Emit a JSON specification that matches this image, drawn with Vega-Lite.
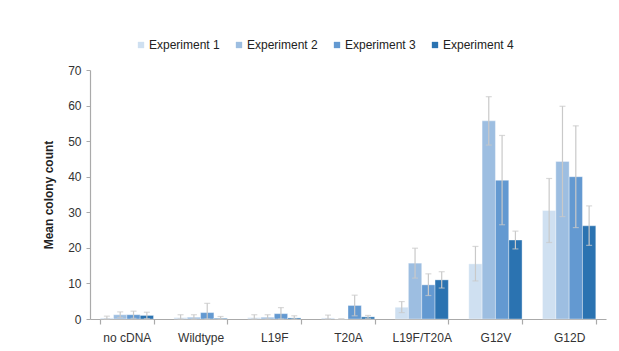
{
  "$schema": "https://vega.github.io/schema/vega-lite/v6.json",
  "autosize": "none",
  "width": 516,
  "height": 249,
  "padding": {"left": 90, "top": 70, "right": 13, "bottom": 32},
  "background": "white",
  "config": {
    "view": {"stroke": null},
    "font": "Liberation Sans",
    "axis": {"labelFont": "Liberation Sans", "titleFont": "Liberation Sans", "labelColor": "#333333", "titleColor": "#222222", "domainColor": "#aaaaaa", "tickColor": "#aaaaaa", "grid": false},
    "axisY": {"title": "Mean colony count", "titleFontWeight": "bold", "titleFontSize": 12, "titlePadding": 12, "values": [0, 10, 20, 30, 40, 50, 60, 70], "labelOverlap": false, "labelFontSize": 12, "tickSize": 4, "labelPadding": 5, "domainWidth": 1.2}
  },
  "data": {
    "values": [
      {"cat": "no cDNA", "exp": "Experiment 1", "mean": 0.3, "lo": 0.0, "hi": 0.8},
      {"cat": "no cDNA", "exp": "Experiment 2", "mean": 1.2, "lo": 0.4, "hi": 2.0},
      {"cat": "no cDNA", "exp": "Experiment 3", "mean": 1.2, "lo": 0.2, "hi": 2.2},
      {"cat": "no cDNA", "exp": "Experiment 4", "mean": 1.0, "lo": 0.1, "hi": 1.9},
      {"cat": "Wildtype", "exp": "Experiment 1", "mean": 0.4, "lo": 0.0, "hi": 1.2},
      {"cat": "Wildtype", "exp": "Experiment 2", "mean": 0.5, "lo": 0.0, "hi": 1.2},
      {"cat": "Wildtype", "exp": "Experiment 3", "mean": 1.8, "lo": 0.0, "hi": 4.4},
      {"cat": "Wildtype", "exp": "Experiment 4", "mean": 0.2, "lo": 0.0, "hi": 0.7},
      {"cat": "L19F", "exp": "Experiment 1", "mean": 0.4, "lo": 0.0, "hi": 1.2},
      {"cat": "L19F", "exp": "Experiment 2", "mean": 0.5, "lo": 0.0, "hi": 1.2},
      {"cat": "L19F", "exp": "Experiment 3", "mean": 1.5, "lo": 0.0, "hi": 3.2},
      {"cat": "L19F", "exp": "Experiment 4", "mean": 0.3, "lo": 0.0, "hi": 0.9},
      {"cat": "T20A", "exp": "Experiment 1", "mean": 0.3, "lo": 0.0, "hi": 1.1},
      {"cat": "T20A", "exp": "Experiment 2", "mean": 0.0, "lo": 0.0, "hi": 0.0},
      {"cat": "T20A", "exp": "Experiment 3", "mean": 3.8, "lo": 0.9, "hi": 6.7},
      {"cat": "T20A", "exp": "Experiment 4", "mean": 0.6, "lo": 0.2, "hi": 1.0},
      {"cat": "L19F/T20A", "exp": "Experiment 1", "mean": 3.3, "lo": 1.8, "hi": 4.9},
      {"cat": "L19F/T20A", "exp": "Experiment 2", "mean": 15.7, "lo": 11.5, "hi": 19.9},
      {"cat": "L19F/T20A", "exp": "Experiment 3", "mean": 9.6, "lo": 6.6, "hi": 12.7},
      {"cat": "L19F/T20A", "exp": "Experiment 4", "mean": 11.0, "lo": 8.7, "hi": 13.3},
      {"cat": "G12V", "exp": "Experiment 1", "mean": 15.5, "lo": 10.7, "hi": 20.4},
      {"cat": "G12V", "exp": "Experiment 2", "mean": 55.7, "lo": 48.9, "hi": 62.5},
      {"cat": "G12V", "exp": "Experiment 3", "mean": 39.0, "lo": 26.5, "hi": 51.6},
      {"cat": "G12V", "exp": "Experiment 4", "mean": 22.2, "lo": 19.7, "hi": 24.7},
      {"cat": "G12D", "exp": "Experiment 1", "mean": 30.5, "lo": 21.5, "hi": 39.5},
      {"cat": "G12D", "exp": "Experiment 2", "mean": 44.3, "lo": 28.8, "hi": 59.8},
      {"cat": "G12D", "exp": "Experiment 3", "mean": 40.0, "lo": 25.7, "hi": 54.3},
      {"cat": "G12D", "exp": "Experiment 4", "mean": 26.2, "lo": 20.7, "hi": 31.8}
    ]
  },
  "encoding": {
    "x": {
      "field": "cat", "type": "nominal",
      "sort": ["no cDNA", "Wildtype", "L19F", "T20A", "L19F/T20A", "G12V", "G12D"],
      "scale": {"paddingInner": 0.277, "paddingOuter": 0.1385},
      "axis": {"title": null, "labelAngle": 0, "labelFontSize": 12, "labelPadding": 8, "ticks": true, "tickBand": "extent", "tickExtra": true, "tickSize": 5, "tickWidth": 1.2, "domainWidth": 1.2}
    },
    "xOffset": {"field": "exp", "type": "nominal", "scale": {"paddingInner": 0, "paddingOuter": 0}}
  },
  "layer": [
    {
      "mark": {"type": "bar", "stroke": "#ffffff", "strokeWidth": 0.6, "strokeOpacity": 0.6},
      "encoding": {
        "y": {
          "field": "mean", "type": "quantitative", "title": "Mean colony count",
          "scale": {"domain": [0, 70], "nice": false}
        },
        "color": {
          "field": "exp", "type": "nominal",
          "scale": {"domain": ["Experiment 1", "Experiment 2", "Experiment 3", "Experiment 4"], "range": ["#cfe0f1", "#9dbee1", "#6399d1", "#2b73b1"]},
          "legend": {"title": null, "orient": "none", "legendX": 45, "legendY": -31, "direction": "horizontal", "symbolType": "square", "symbolSize": 40, "symbolStrokeWidth": 0, "labelFontSize": 12, "labelColor": "#222222", "labelFont": "Liberation Sans", "columnPadding": 13, "labelOffset": 2}
        }
      }
    },
    {
      "mark": {"type": "rule", "color": "#c9c9c9", "strokeWidth": 1.2},
      "encoding": {
        "y": {"field": "lo", "type": "quantitative", "title": "Mean colony count"},
        "y2": {"field": "hi"}
      }
    },
    {
      "mark": {"type": "tick", "color": "#c9c9c9", "size": 6, "thickness": 1.2, "orient": "horizontal"},
      "encoding": {"y": {"field": "lo", "type": "quantitative", "title": "Mean colony count"}}
    },
    {
      "mark": {"type": "tick", "color": "#c9c9c9", "size": 6, "thickness": 1.2, "orient": "horizontal"},
      "encoding": {"y": {"field": "hi", "type": "quantitative", "title": "Mean colony count"}}
    }
  ]
}
